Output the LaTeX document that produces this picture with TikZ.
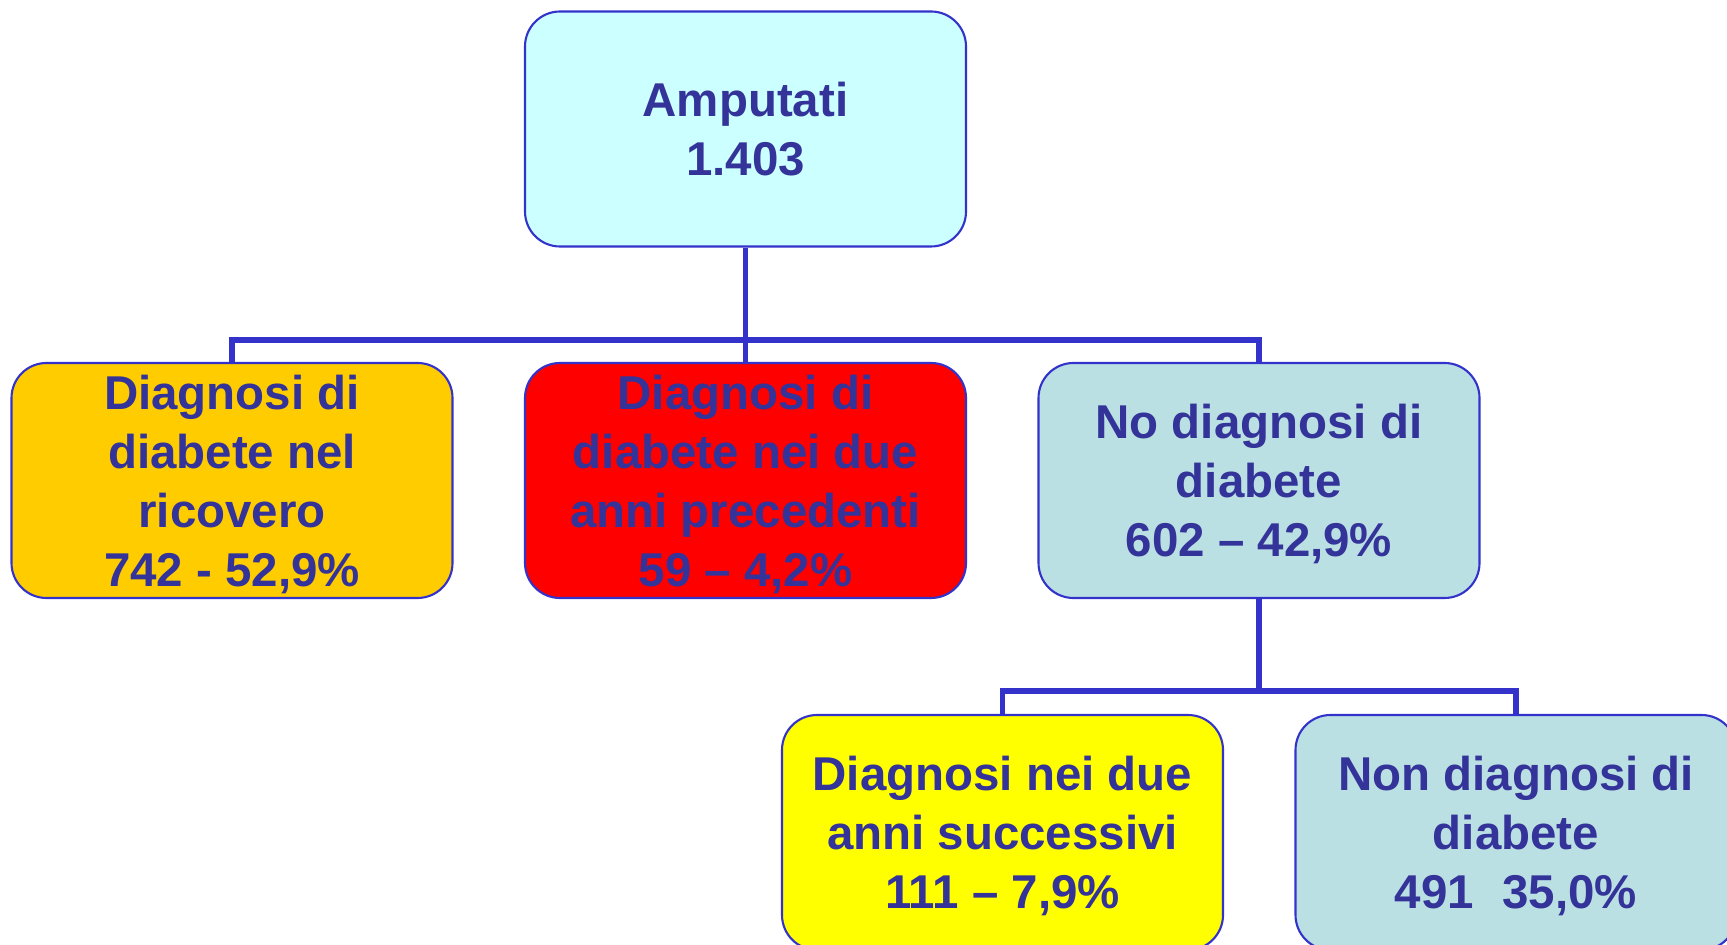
\documentclass[tikz,border=0pt]{standalone}
\usepackage{fontspec}
\setmainfont{Liberation Sans}
\definecolor{ttext}{HTML}{333399}
\definecolor{tline}{HTML}{3333CC}
\definecolor{fcyan}{HTML}{CCFFFF}
\definecolor{forange}{HTML}{FFCC00}
\definecolor{fred}{HTML}{FF0000}
\definecolor{fgrey}{HTML}{BBE0E3}
\definecolor{fyellow}{HTML}{FFFF00}

\begin{document}
\begin{tikzpicture}[font={\fontsize{13.5pt}{16.8pt}\selectfont\bfseries},
    box/.style={draw=tline,line width=0.6pt,rounded corners=0.35cm,minimum width=4.41cm,minimum height=2.35cm,inner sep=0pt,text depth=0pt,align=center,text=ttext},
    link/.style={draw=tline,line width=1.55pt}]
    \useasboundingbox (0,0) rectangle (17.27,-9.45);
    % first level
    \node[box,fill=fcyan] (amp) at (7.455,-1.29) {Amputati\\1.403};
    \node[box,fill=forange] (ricov) at (2.32,-4.805) {Diagnosi di\\diabete nel\\ricovero\\742 - 52,9\%};
    \node[box,fill=fred] (prec) at (7.455,-4.805) {Diagnosi di\\diabete nei due\\anni precedenti\\59 – 4,2\%};
    \node[box,fill=fgrey] (nodiag) at (12.59,-4.805) {No diagnosi di\\diabete\\602 – 42,9\%};
    % second level
    \node[box,fill=fyellow] (succ) at (10.025,-8.325) {Diagnosi nei due\\anni successivi\\111 – 7,9\%};
    \node[box,fill=fgrey] (nondiag) at (15.16,-8.325) {Non diagnosi di\\diabete\\491\hspace{0.6em}35,0\%};
    \coordinate (bar1) at (7.455,-3.40);
    \coordinate (bar2) at (12.59,-6.91);
    \draw[link] (amp.south) -- (prec.north);
    \draw[link] (ricov.north) |- (bar1) -| (nodiag.north);
    \draw[link] (nodiag.south) -- (bar2);
    \draw[link] (succ.north) |- (bar2) -| (nondiag.north);
  \end{tikzpicture}
\end{document}
